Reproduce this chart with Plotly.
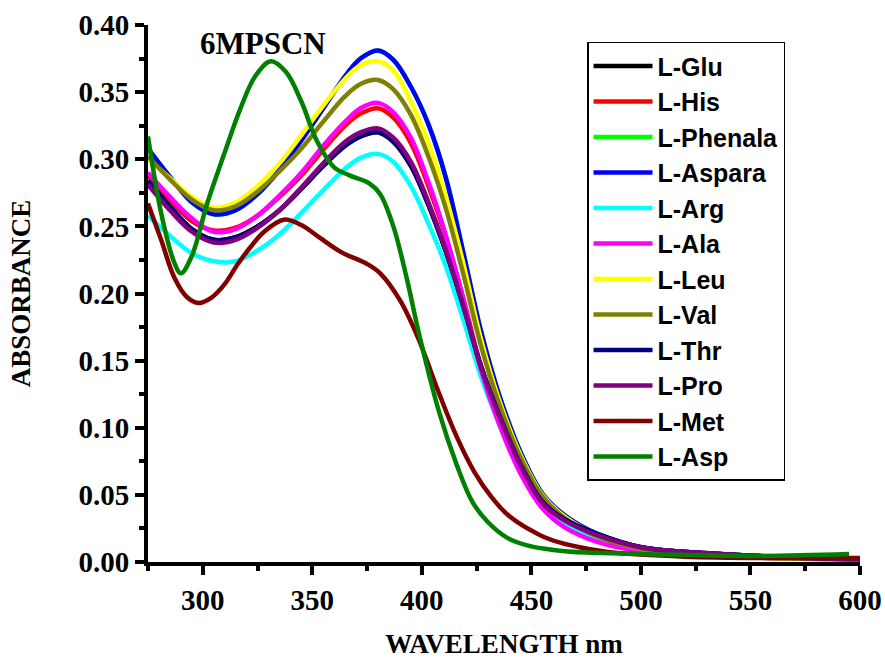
import plotly.graph_objects as go

# Common wavelength grid (nm) for the main group of curves
wl = [275, 285, 295, 305, 315, 325, 335, 345, 355, 365, 372, 380, 387, 395, 403,
      411, 419, 427, 435, 445, 455, 465, 480, 500, 525, 560, 600]

glu = [0.284, 0.265, 0.248, 0.240, 0.242, 0.250, 0.262, 0.278, 0.295, 0.310, 0.317, 0.320, 0.313, 0.295, 0.266,
       0.231, 0.190, 0.146, 0.111, 0.073, 0.045, 0.032, 0.021, 0.011, 0.007, 0.004, 0.002]
his = [0.288, 0.270, 0.254, 0.247, 0.249, 0.258, 0.272, 0.288, 0.307, 0.325, 0.334, 0.338, 0.331, 0.312, 0.280,
       0.242, 0.196, 0.145, 0.106, 0.068, 0.042, 0.028, 0.016, 0.009, 0.005, 0.003, 0.002]
phenala = [0.308, 0.287, 0.268, 0.259, 0.262, 0.274, 0.292, 0.314, 0.338, 0.362, 0.375, 0.381, 0.374, 0.354, 0.326,
           0.286, 0.230, 0.172, 0.126, 0.082, 0.051, 0.035, 0.021, 0.011, 0.007, 0.004, 0.002]
aspara = [0.308, 0.287, 0.268, 0.259, 0.262, 0.274, 0.292, 0.314, 0.338, 0.362, 0.375, 0.381, 0.374, 0.354, 0.326,
          0.286, 0.230, 0.172, 0.126, 0.082, 0.051, 0.035, 0.021, 0.011, 0.007, 0.004, 0.002]
arg = [0.258, 0.243, 0.230, 0.224, 0.224, 0.232, 0.244, 0.260, 0.277, 0.293, 0.301, 0.304, 0.298, 0.280, 0.252,
       0.220, 0.180, 0.138, 0.104, 0.068, 0.042, 0.029, 0.018, 0.010, 0.006, 0.003, 0.002]
ala = [0.290, 0.272, 0.256, 0.246, 0.248, 0.258, 0.273, 0.290, 0.310, 0.328, 0.338, 0.342, 0.335, 0.316, 0.283,
       0.243, 0.195, 0.143, 0.104, 0.066, 0.040, 0.026, 0.015, 0.008, 0.005, 0.003, 0.002]
leu = [0.300, 0.286, 0.272, 0.264, 0.268, 0.280, 0.297, 0.318, 0.340, 0.360, 0.370, 0.373, 0.366, 0.343, 0.312,
       0.272, 0.222, 0.166, 0.122, 0.080, 0.050, 0.034, 0.020, 0.010, 0.006, 0.003, 0.002]
val = [0.302, 0.285, 0.270, 0.262, 0.265, 0.276, 0.291, 0.308, 0.328, 0.347, 0.356, 0.359, 0.352, 0.333, 0.302,
       0.263, 0.214, 0.161, 0.119, 0.078, 0.049, 0.033, 0.019, 0.010, 0.006, 0.003, 0.002]
thr = [0.284, 0.265, 0.248, 0.240, 0.242, 0.250, 0.262, 0.278, 0.295, 0.310, 0.317, 0.320, 0.313, 0.295, 0.266,
       0.231, 0.190, 0.146, 0.111, 0.073, 0.045, 0.032, 0.021, 0.011, 0.007, 0.004, 0.002]
pro = [0.281, 0.262, 0.246, 0.238, 0.240, 0.249, 0.262, 0.279, 0.297, 0.313, 0.320, 0.323, 0.316, 0.298, 0.268,
       0.232, 0.190, 0.145, 0.110, 0.072, 0.044, 0.031, 0.020, 0.011, 0.007, 0.004, 0.002]

# L-Met and L-Asp have their own sampling
wl_met = [275, 281, 287, 293, 298, 304, 310, 316, 322, 328, 337, 345, 353, 363, 375, 381, 390, 398,
          408, 416, 424, 432, 440, 454, 464, 472, 487, 520, 560, 600]
met = [0.267, 0.240, 0.212, 0.197, 0.193, 0.197, 0.207, 0.222, 0.235, 0.246, 0.255, 0.251, 0.242, 0.231,
       0.222, 0.215, 0.195, 0.168, 0.125, 0.093, 0.067, 0.048, 0.034, 0.020, 0.014, 0.011, 0.007, 0.004,
       0.003, 0.003]

wl_asp = [275, 281, 287, 290, 295, 302, 310, 317, 324, 331, 338, 345, 352, 360, 367, 376, 381, 387, 393,
          399, 408, 416, 423, 430, 439, 449, 460, 475, 500, 550, 595]
asp = [0.317, 0.260, 0.223, 0.215, 0.228, 0.267, 0.305, 0.337, 0.362, 0.373, 0.365, 0.343, 0.314, 0.294,
       0.288, 0.282, 0.274, 0.250, 0.212, 0.168, 0.111, 0.072, 0.045, 0.030, 0.018, 0.012, 0.009, 0.007,
       0.006, 0.0045, 0.006]

names = ["L-Glu", "L-His", "L-Phenala", "L-Aspara", "L-Arg", "L-Ala", "L-Leu", "L-Val",
         "L-Thr", "L-Pro", "L-Met", "L-Asp"]
series = [glu, his, phenala, aspara, arg, ala, leu, val, thr, pro, met, asp]
xs = [wl] * 10 + [wl_met, wl_asp]
colors = ["#000000", "#ff0000", "#00ff00", "#0000ff", "#00ffff", "#ff00ff", "#ffff00",
          "#808000", "#000080", "#800080", "#800000", "#008000"]

fig = go.Figure()
for n, x, y, c in zip(names, xs, series, colors):
    fig.add_trace(go.Scatter(x=x, y=y, name=n, mode="lines",
                             line=dict(color=c, width=4.5, shape="spline", smoothing=1.0)))

serif = "Liberation Serif, Times New Roman, serif"
axis_common = dict(showline=True, linecolor="black", linewidth=4, ticks="outside",
                   tickwidth=4, ticklen=9, tickcolor="black", showgrid=False, zeroline=False,
                   mirror=False, automargin=False,
                   tickfont=dict(family=serif, size=29, color="black", weight="bold"))

fig.update_layout(
    width=885, height=659,
    margin=dict(l=148, r=25, t=25, b=97),
    paper_bgcolor="white", plot_bgcolor="white",
    xaxis=dict(range=[275, 600], dtick=50, tick0=300,
               minor=dict(dtick=25, tick0=275, ticklen=5, tickwidth=4, ticks="outside", tickcolor="black"),
               title=dict(text="WAVELENGTH nm", standoff=21,
                          font=dict(family=serif, size=27, color="black", weight="bold")),
               **axis_common),
    yaxis=dict(range=[0, 0.40], dtick=0.05, tickformat=".2f",
               minor=dict(dtick=0.025, ticklen=5, tickwidth=4, ticks="outside", tickcolor="black"),
               title=dict(text="ABSORBANCE", standoff=41,
                          font=dict(family=serif, size=27, color="black", weight="bold")),
               **axis_common),
    legend=dict(x=0.6166, y=0.969, xanchor="left", yanchor="top",
                bordercolor="black", borderwidth=1.5, bgcolor="white",
                font=dict(family="Liberation Sans, Arial, sans-serif", size=25, color="black", weight="bold"),
                itemwidth=59, tracegroupgap=0),
    showlegend=True,
    annotations=[dict(text="6MPSCN", x=327.7, y=0.966, xref="x", yref="paper",
                      xanchor="center", yanchor="middle", showarrow=False,
                      font=dict(family=serif, size=31, color="black", weight="bold"))],
)

fig.write_html("out.html")
